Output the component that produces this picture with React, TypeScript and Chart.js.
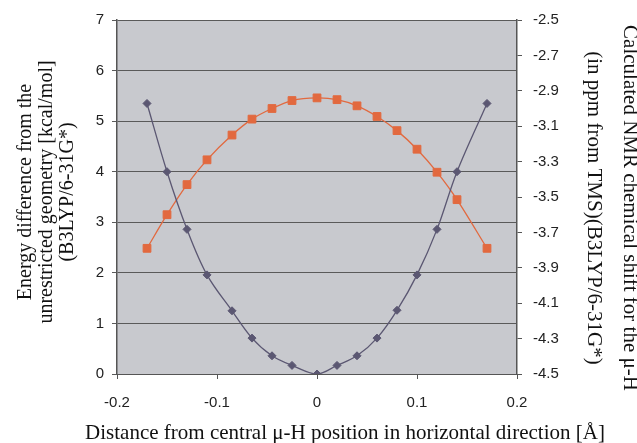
import React, { useEffect, useRef } from 'react';
import { Chart, registerables } from 'chart.js';

Chart.register(...registerables);

// Horizontal displacement of the central μ-H (Å)
const positions = [-0.17, -0.15, -0.13, -0.11, -0.085, -0.065, -0.045, -0.025, 0, 0.02, 0.04, 0.06, 0.08, 0.1, 0.12, 0.14, 0.17];
// Energy difference (kcal/mol), left axis
const energyValues = [5.35, 4.0, 2.86, 1.96, 1.25, 0.71, 0.36, 0.17, 0, 0.17, 0.36, 0.71, 1.26, 1.96, 2.86, 4.0, 5.35];
// Calculated NMR shift (ppm), right axis
const nmrShiftValues = [-3.79, -3.6, -3.43, -3.29, -3.15, -3.06, -3.0, -2.955, -2.94, -2.95, -2.985, -3.045, -3.125, -3.23, -3.36, -3.515, -3.79];
// Right axis tick labels
const rightTickValues = [-4.5, -4.3, -4.1, -3.9, -3.7, -3.5, -3.3, -3.1, -2.9, -2.7, -2.5];

const xTitle = 'Distance from central μ-H position in horizontal direction [Å]';
const leftTitle = ['Energy difference from the', 'unrestricted geometry [kcal/mol]', '(B3LYP/6-31G*)'];
const rightTitle = ['Calculated NMR chemical shift for the μ-H', '(in ppm from TMS)(B3LYP/6-31G*)'];

const SANS = '"Liberation Sans", Arial, sans-serif';
const SERIF = '"Liberation Serif", "Times New Roman", serif';

const plotBg = {
  id: 'plotBg',
  beforeDraw(chart: any) {
    const { ctx, chartArea } = chart;
    if (!chartArea) return;
    ctx.save();
    ctx.fillStyle = '#c8c9ce';
    ctx.fillRect(chartArea.left, chartArea.top, chartArea.right - chartArea.left, chartArea.bottom - chartArea.top);
    ctx.restore();
  },
};

// Axis titles drawn as canvas text (Chart.js would squeeze long titles to the scale length)
const axisTitles = {
  id: 'axisTitles',
  afterDraw(chart: any) {
    const { ctx } = chart;
    ctx.save();
    ctx.fillStyle = '#111';
    ctx.textAlign = 'center';

    // bottom title
    ctx.font = `21px ${SERIF}`;
    ctx.textBaseline = 'alphabetic';
    ctx.fillText(xTitle, 345, 439);

    // left title (reads bottom to top)
    ctx.font = `20px ${SERIF}`;
    ctx.textBaseline = 'middle';
    const leftX = [26, 47, 68];
    leftTitle.forEach((line, i) => {
      ctx.save();
      ctx.translate(leftX[i], 192);
      ctx.rotate(-Math.PI / 2);
      ctx.fillText(line, 0, 0);
      ctx.restore();
    });

    // right title (reads top to bottom)
    ctx.font = `21px ${SERIF}`;
    const rightX = [630, 594];
    rightTitle.forEach((line, i) => {
      ctx.save();
      ctx.translate(rightX[i], 208);
      ctx.rotate(Math.PI / 2);
      ctx.fillText(line, 0, 0);
      ctx.restore();
    });
    ctx.restore();
  },
};

export default function App() {
  const ref = useRef<HTMLCanvasElement | null>(null);

  useEffect(() => {
    document.body.style.margin = '0';
    const canvas = ref.current;
    if (!canvas) return;
    const chart = new Chart(canvas, {
      type: 'line',
      data: {
        datasets: [
          {
            label: 'Energy',
            data: positions.map((x, i) => ({ x, y: energyValues[i] })),
            yAxisID: 'y',
            borderColor: '#5b5772',
            backgroundColor: '#5b5772',
            pointStyle: 'rectRot',
            pointRadius: 4,
            pointBorderWidth: 1,
            borderWidth: 1.3,
            tension: 0.35,
          },
          {
            label: 'NMR',
            data: positions.map((x, i) => ({ x, y: nmrShiftValues[i] })),
            yAxisID: 'y2',
            borderColor: '#e2693f',
            backgroundColor: '#e2693f',
            pointStyle: 'rect',
            pointRadius: 5.5,
            pointBorderWidth: 1,
            borderWidth: 1.3,
            tension: 0.3,
          },
        ],
      },
      options: {
        responsive: false,
        animation: false,
        layout: { padding: { top: 17, left: 0, right: 0, bottom: 0 } },
        plugins: { legend: { display: false }, tooltip: { enabled: false } },
        scales: {
          x: {
            type: 'linear',
            position: 'bottom',
            min: -0.2,
            max: 0.2,
            afterFit: (scale: any) => {
              scale.height = 69;
            },
            ticks: {
              stepSize: 0.1,
              padding: 15,
              color: '#222',
              font: { family: SANS, size: 15 },
              callback: (v: any) => String(Math.round(Number(v) * 10) / 10),
            },
            grid: { drawOnChartArea: false, drawTicks: true, tickLength: 5, color: '#555' },
            border: { display: true, color: '#555', width: 1 },
          },
          y: {
            position: 'left',
            min: 0,
            max: 7,
            afterFit: (scale: any) => {
              scale.width = 117;
            },
            ticks: {
              stepSize: 1,
              padding: 8,
              color: '#222',
              font: { family: SANS, size: 15 },
            },
            grid: { color: '#5a5a5a', lineWidth: 1, drawTicks: true, tickLength: 5 },
            border: { display: true, color: '#555', width: 1.5 },
          },
          y2: {
            position: 'right',
            min: -4.5,
            max: -2.5,
            afterFit: (scale: any) => {
              scale.width = 120;
            },
            afterBuildTicks: (scale: any) => {
              scale.ticks = rightTickValues.map((value) => ({ value }));
            },
            ticks: {
              padding: 11,
              color: '#222',
              font: { family: SANS, size: 15 },
              callback: (v: any) => Number(v).toFixed(1),
            },
            grid: { drawOnChartArea: false, drawTicks: true, tickLength: 5, color: '#555' },
            border: { display: true, color: '#555', width: 1.5 },
          },
        },
      },
      plugins: [plotBg, axisTitles],
    } as any);
    return () => chart.destroy();
  }, []);

  return (
    <div style={{ width: 637, height: 443 }}>
      <canvas ref={ref} width={637} height={443} style={{ display: 'block' }} />
    </div>
  );
}
